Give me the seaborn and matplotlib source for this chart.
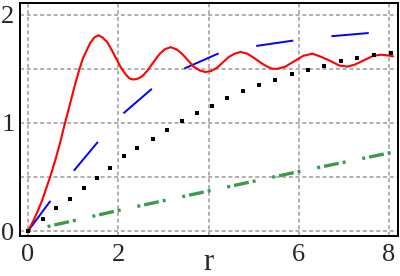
import numpy as np
import pandas as pd
import matplotlib
matplotlib.use("Agg")
import matplotlib.pyplot as plt
import seaborn as sns

# values
red_r = [0.00, 0.10, 0.20, 0.30, 0.40, 0.49, 0.60, 0.70, 0.82, 0.92, 1.02, 1.14, 1.22, 1.30,
         1.38, 1.47, 1.56, 1.65, 1.75, 1.86, 1.97, 2.06, 2.16, 2.25, 2.34, 2.44, 2.53, 2.64,
         2.76, 2.90, 3.03, 3.16, 3.29, 3.41, 3.54, 3.67, 3.80, 3.93, 4.06, 4.19, 4.32, 4.45,
         4.58, 4.71, 4.86, 5.01, 5.16, 5.30, 5.42, 5.53, 5.70, 5.90, 6.10, 6.30, 6.50, 6.71,
         6.90, 7.08, 7.25, 7.45, 7.65, 7.82, 7.95, 8.09]
red_g = [0.00, 0.08, 0.17, 0.27, 0.39, 0.50, 0.65, 0.80, 1.00, 1.16, 1.32, 1.50, 1.60, 1.67,
         1.74, 1.79, 1.81, 1.79, 1.75, 1.67, 1.58, 1.51, 1.45, 1.41, 1.40, 1.41, 1.43, 1.48,
         1.55, 1.63, 1.68, 1.70, 1.68, 1.64, 1.58, 1.52, 1.485, 1.47, 1.48, 1.51, 1.56, 1.61,
         1.64, 1.655, 1.64, 1.60, 1.555, 1.52, 1.50, 1.50, 1.52, 1.57, 1.62, 1.64, 1.61, 1.57,
         1.53, 1.52, 1.54, 1.58, 1.62, 1.63, 1.625, 1.615]

blue_r = [0.00, 0.50, 1.02, 1.54, 2.12, 2.73, 3.45, 4.21, 5.04, 5.86, 6.69, 7.53, 8.10]
blue_g = [0.00, 0.28, 0.56, 0.82, 1.09, 1.31, 1.50, 1.64, 1.71, 1.76, 1.80, 1.83, 1.85]

black_r = [0.00, 0.33, 0.62, 0.92, 1.23, 1.52, 1.81, 2.12, 2.42, 2.77, 3.09, 3.41, 3.75,
           4.07, 4.42, 4.77, 5.12, 5.47, 5.84, 6.21, 6.57, 6.93, 7.30, 7.67, 8.04]
black_g = [0.00, 0.11, 0.21, 0.30, 0.40, 0.49, 0.58, 0.69, 0.77, 0.855, 0.935, 1.016, 1.09,
           1.16, 1.23, 1.29, 1.35, 1.40, 1.45, 1.49, 1.53, 1.57, 1.60, 1.63, 1.65]

green_r = [0.0, 2.0, 4.0, 6.0, 8.1]
green_g = [0.0, 0.19, 0.37, 0.55, 0.73]

xticks = [0, 2, 4, 6, 8]
xticklabels = ['0', '2', '', '6', '8']
yticks = [0, 1, 2]
yticklabels = ['0', '1', '2']

sns.set_style("white")
plt.rcParams['font.family'] = ['Liberation Serif', 'DejaVu Serif']

fig = plt.figure(figsize=(4.0, 2.76), dpi=100)
ax = fig.add_axes([0.05, 0.145, 0.944, 0.844])

# grid lines (dashed gray)
for gx in [0, 2, 4, 6, 8]:
    ax.axvline(gx, color='#9a9a9a', lw=1.1, ls=(0, (2.6, 1.8)), zorder=0)
for gy in [0, 0.5, 1, 1.5, 2]:
    ax.axhline(gy, color='#9a9a9a', lw=1.1, ls=(0, (2.6, 1.8)), zorder=0)

px = 0.72  # points per pixel at 100 dpi

sns.lineplot(x=green_r, y=green_g, ax=ax, color='#3a9b50', lw=2.4, estimator=None,
             ls=(0, tuple(v * px / 2.4 for v in (3, 17, 3, 4, 15, 4))))
sns.scatterplot(x=black_r, y=black_g, ax=ax, color='black', marker='s', s=11, linewidth=0,
                zorder=3)
sns.lineplot(x=blue_r, y=blue_g, ax=ax, color='#0000ff', lw=1.4, estimator=None,
             ls=(0, (37.5 * px / 1.4, 38.3 * px / 1.4)))
sns.lineplot(x=red_r, y=red_g, ax=ax, color='#ff0000', lw=1.5, estimator=None)

ax.set_xlim(-0.178, 8.19)
ax.set_ylim(-0.046, 2.108)
ax.set_xticks(xticks)
ax.set_xticklabels(xticklabels)
ax.set_yticks(yticks)
ax.set_yticklabels(yticklabels)
ax.tick_params(direction='in', length=3.5, width=1, labelsize=19, pad=4, color='black')
ax.tick_params(axis='x', pad=6)
ax.set_xlabel('r', fontsize=22, labelpad=-13)
ax.set_ylabel('')

for sp in ax.spines.values():
    sp.set_color('black')
    sp.set_linewidth(1.4)

fig.savefig('out.png', dpi=100)
